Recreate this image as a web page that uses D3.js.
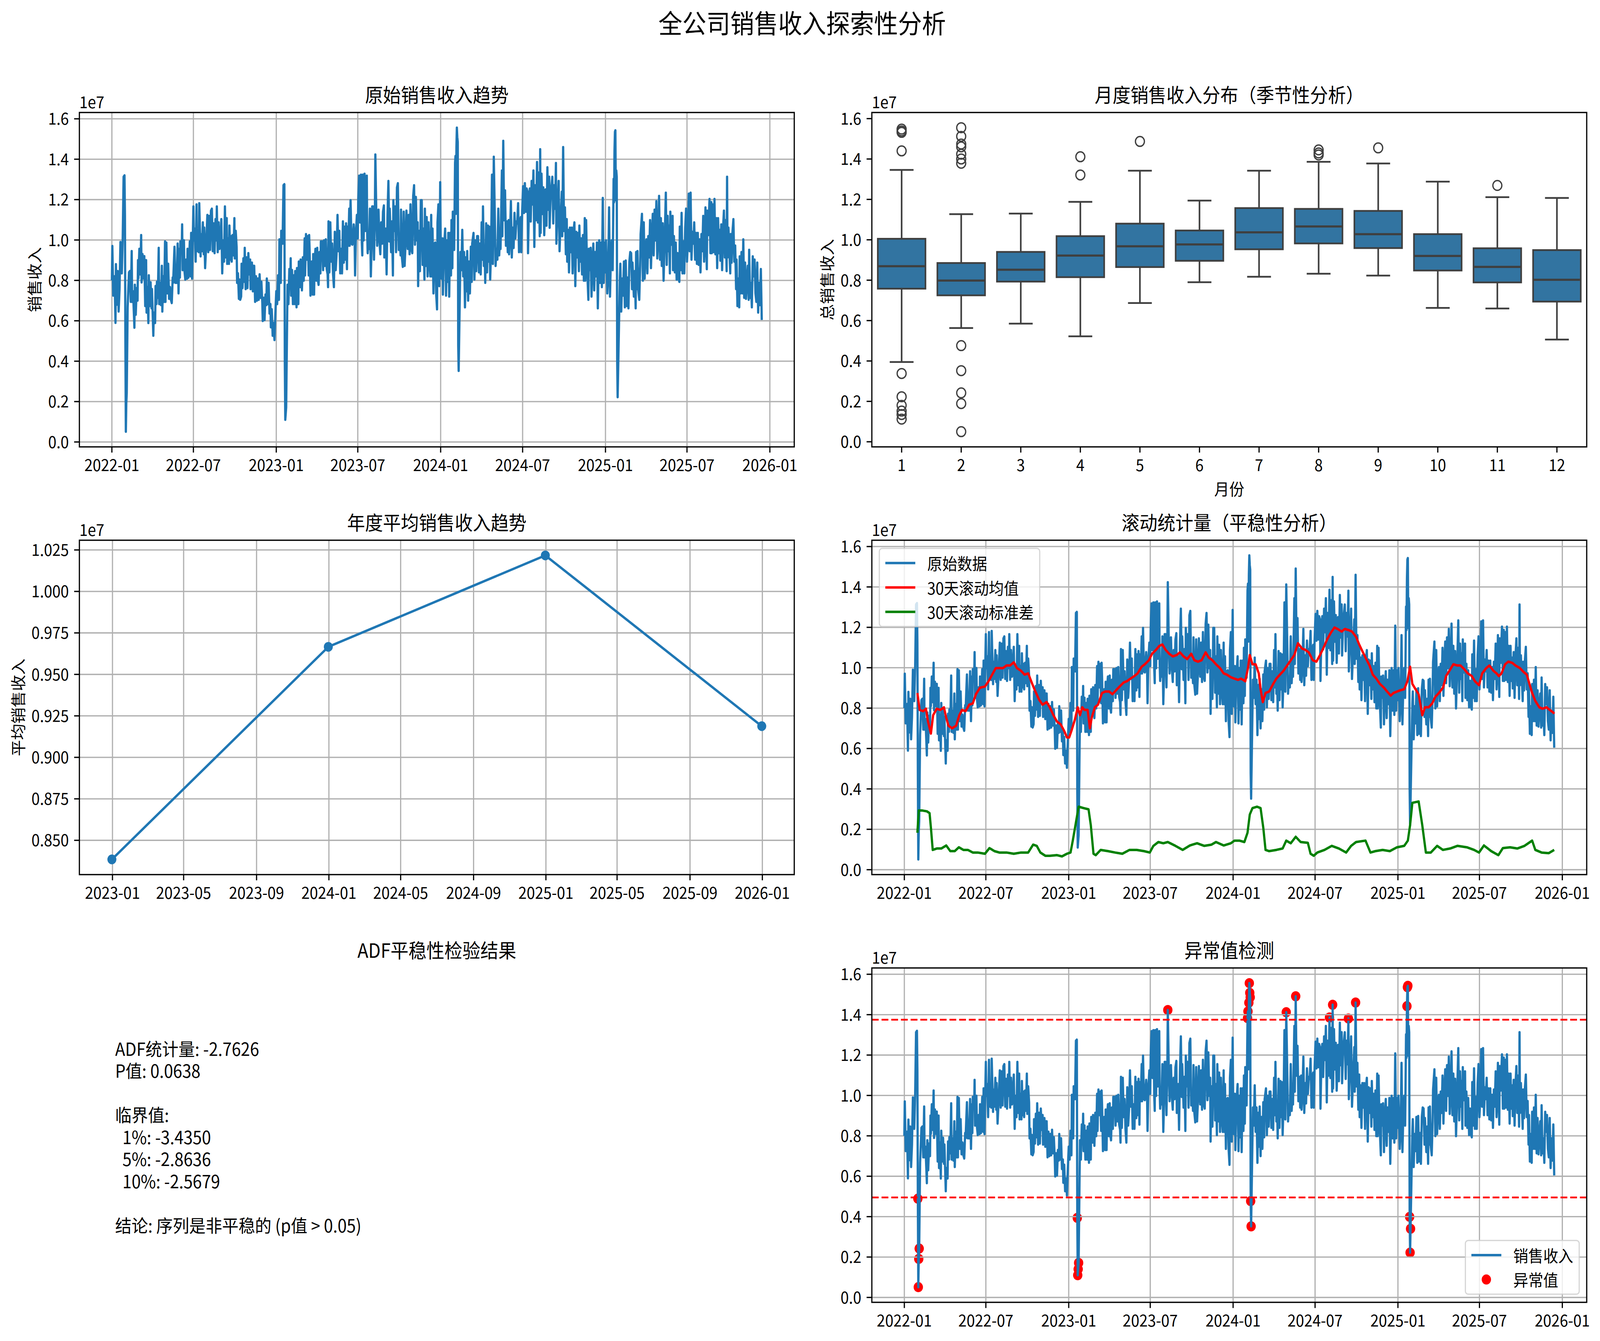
<!DOCTYPE html>
<html><head><meta charset="utf-8">
<script src="https://cdn.jsdelivr.net/npm/d3@7"></script>
<style>html,body{margin:0;padding:0;background:#fff;width:100%;height:100%;overflow:hidden}svg{display:block;width:100vw;height:100vh}text{font-family:"Noto Sans CJK SC","Noto Sans",sans-serif;fill:#000}
.adf{font-family:"Noto Sans CJK SC","Noto Sans",sans-serif;white-space:pre;color:#000;margin:0;padding:0}</style>
</head><body><svg id="chart" viewBox="0 0 4454 3433" preserveAspectRatio="none"></svg>
<script>
// ---------------- DATA (values in units of 1e7) ----------------
const seriesStart = "2022-01-01";
// [day offset from 2022-01-01, daily sales revenue]
const salesSeries = [
[0,0.80],[1,0.97],[3,0.725],[6,0.82],[8,0.59],[9,0.88],[11,0.68],[13,0.846],[15,0.646],[17,0.757],[19,0.99],[22,0.835],[24,1.0],[26,1.313],[28,1.32],[29,1.124],[30,0.489],[31,0.051],[32,0.191],[33,0.242],[35,0.667],[38,0.84],[40,0.846],[42,0.694],[44,0.945],[45,0.694],[47,0.746],[50,0.566],[51,0.778],[53,0.63],[55,0.762],[57,0.70],[58,0.90],[59,0.81],[61,0.956],[63,0.83],[65,1.024],[66,0.79],[68,0.93],[70,0.81],[72,0.92],[74,0.673],[76,0.90],[77,0.641],[79,0.767],[81,0.589],[82,0.825],[84,0.673],[86,0.79],[88,0.662],[89,0.757],[92,0.526],[93,0.641],[96,0.589],[97,0.772],[99,0.683],[100,0.793],[102,0.714],[104,0.961],[105,0.683],[108,0.788],[109,0.678],[111,0.872],[112,0.646],[114,0.82],[116,0.694],[118,0.993],[119,0.694],[121,0.987],[123,0.736],[125,0.882],[127,0.709],[129,0.767],[131,0.704],[133,0.688],[135,0.814],[136,0.788],[139,0.966],[141,0.788],[143,0.835],[144,0.788],[146,0.982],[148,0.736],[150,0.956],[151,0.814],[152,0.993],[155,0.945],[156,1.077],[157,0.851],[160,0.998],[161,0.851],[163,0.804],[165,0.903],[167,0.809],[168,0.956],[170,0.814],[172,0.935],[173,0.993],[175,0.82],[176,1.035],[178,0.809],[181,1.166],[182,0.998],[184,1.056],[186,0.893],[188,1.176],[189,0.945],[191,1.008],[193,0.94],[194,1.182],[197,0.919],[198,1.029],[200,0.945],[202,1.087],[204,0.93],[205,1.061],[207,0.861],[209,0.956],[212,1.124],[214,0.94],[216,1.119],[218,0.951],[220,1.145],[222,1.155],[224,0.945],[226,1.082],[228,0.935],[230,1.103],[232,0.998],[233,1.166],[235,0.94],[237,1.087],[239,0.956],[241,0.998],[243,1.103],[245,0.835],[247,0.998],[249,0.893],[251,1.166],[253,0.914],[255,1.108],[256,0.882],[258,1.008],[260,0.882],[261,1.071],[263,0.903],[265,1.019],[266,0.893],[268,1.024],[270,0.924],[272,1.108],[273,0.909],[275,1.045],[277,0.966],[278,0.788],[280,0.835],[282,0.709],[283,0.804],[285,0.704],[287,0.72],[288,0.882],[290,0.762],[292,0.909],[294,0.793],[295,0.961],[297,0.757],[299,0.914],[301,0.762],[303,0.935],[305,0.83],[307,0.903],[308,0.757],[311,0.888],[313,0.746],[314,0.872],[316,0.872],[318,0.694],[320,0.82],[322,0.70],[324,0.809],[326,0.704],[328,0.83],[330,0.714],[332,0.793],[334,0.688],[335,0.599],[337,0.714],[339,0.604],[341,0.73],[343,0.678],[344,0.809],[346,0.683],[348,0.788],[350,0.636],[352,0.683],[353,0.568],[355,0.657],[357,0.526],[359,0.589],[361,0.505],[363,0.636],[365,0.746],[367,0.683],[369,0.825],[371,0.704],[372,1.003],[375,0.788],[376,1.045],[379,0.982],[381,1.271],[383,1.276],[384,0.394],[385,0.11],[386,0.14],[387,0.171],[390,0.778],
[392,0.683],[394,0.856],[396,0.788],[397,0.909],[398,0.725],[400,0.851],[402,0.683],[404,0.825],[406,0.683],[407,0.846],[410,0.667],[411,0.861],[414,0.683],[415,0.893],[418,0.767],[419,0.903],[422,0.751],[424,0.914],[426,0.799],[428,1.008],[429,0.825],[431,1.029],[433,0.903],[435,1.019],[437,0.825],[438,1.024],[439,0.956],[441,0.725],[444,0.893],[446,0.73],[447,0.93],[449,0.73],[450,0.893],[452,0.956],[454,0.799],[456,0.961],[457,0.809],[459,0.778],[461,0.94],[463,0.835],[464,0.993],[467,0.993],[469,0.851],[471,0.998],[473,0.872],[475,1.003],[477,0.856],[479,0.83],[480,0.767],[481,1.092],[483,0.84],[485,1.087],[487,0.893],[489,0.982],[491,0.835],[493,0.767],[495,1.04],[497,0.851],[499,0.935],[501,1.124],[503,0.945],[505,1.045],[507,0.835],[509,0.956],[511,0.835],[513,1.092],[515,0.888],[516,1.066],[518,0.903],[520,1.082],[522,0.856],[523,1.066],[525,0.972],[527,1.155],[528,0.972],[530,1.197],[532,0.982],[534,0.977],[537,1.077],[539,0.998],[540,0.825],[542,1.04],[544,1.124],[546,1.008],[547,1.197],[549,1.318],[551,1.087],[553,1.323],[555,0.987],[556,0.924],[557,1.323],[559,0.998],[561,1.328],[563,1.045],[566,1.318],[567,1.019],[568,0.935],[570,1.008],[571,0.956],[573,1.155],[575,0.82],[577,0.998],[578,1.166],[580,1.166],[582,0.903],[584,1.15],[585,1.423],[587,1.155],[589,0.972],[590,1.04],[592,1.15],[594,0.998],[596,0.93],[598,1.087],[600,0.982],[602,1.14],[604,1.171],[605,0.914],[608,1.056],[610,0.83],[612,1.124],[614,1.292],[616,0.993],[617,1.155],[620,0.94],[622,1.092],[624,0.825],[625,1.197],[627,1.045],[629,1.166],[631,0.94],[633,1.26],[635,1.281],[637,0.951],[639,1.024],[641,0.924],[642,1.15],[644,0.914],[646,0.867],[648,1.14],[650,0.872],[652,0.977],[654,1.145],[657,0.956],[659,1.124],[661,0.93],[663,1.176],[665,0.956],[667,0.935],[669,1.218],[671,1.271],[673,0.977],[675,1.213],[677,0.998],[679,1.087],[680,0.772],[682,1.045],[684,0.846],[686,1.197],[688,1.197],[690,0.877],[692,1.056],[694,0.804],[695,1.155],[697,0.872],[699,1.113],[701,0.82],[703,1.087],[705,0.893],[707,0.82],[709,1.124],[710,0.82],[712,1.056],[714,0.736],[716,0.982],[718,0.987],[720,0.736],[722,0.657],[723,1.087],[725,1.176],[727,0.772],[729,1.286],
[730,1.019],[732,0.809],[734,1.008],[735,0.73],[737,0.945],[740,1.056],[742,0.725],[744,0.998],[746,0.793],[747,1.035],[749,0.72],[751,1.035],[753,0.825],[754,1.098],[756,0.861],[757,1.14],[760,0.951],[762,1.383],[763,1.416],[764,1.13],[765,1.459],[766,1.556],[767,1.508],[768,1.486],[769,0.477],[770,0.352],[773,0.788],[774,0.94],[776,0.851],[778,1.05],[780,0.82],[782,0.94],[784,0.667],[786,0.914],[787,0.746],[789,0.945],[791,0.70],[793,0.893],[795,0.736],[797,0.966],[799,0.793],[800,0.982],[803,1.035],[805,0.804],[807,0.998],[809,0.846],[811,1.019],[813,1.019],[815,0.84],[817,0.982],[819,0.83],[821,1.087],[823,0.903],[824,1.166],[826,0.872],[828,0.903],[829,0.788],[831,1.082],[833,0.84],[835,1.071],[836,0.893],[838,1.066],[840,0.804],[842,0.956],[844,1.323],[846,0.882],[848,1.412],[850,1.155],[852,0.872],[854,0.956],[856,0.903],[858,1.155],[860,0.924],[862,1.029],[863,0.956],[866,1.344],[867,1.019],[869,1.491],[871,1.098],[873,1.245],[875,0.972],[877,1.092],[879,0.94],[881,1.098],[882,0.93],[884,1.019],[886,1.192],[888,0.914],[890,1.061],[892,0.961],[894,1.134],[896,1.008],[898,1.092],[900,1.082],[902,1.182],[904,0.94],[905,1.082],[908,1.113],[909,0.94],[911,1.14],[913,1.266],[915,1.134],[917,1.281],[919,1.14],[921,1.255],[923,1.239],[924,0.935],[926,1.161],[928,1.255],[930,1.092],[932,1.292],[934,1.176],[936,1.344],[938,0.966],[940,1.271],[942,1.098],[944,1.386],[946,1.087],[948,1.334],[950,1.019],[951,1.449],[952,1.035],[954,1.328],[956,1.129],[958,1.26],[960,1.024],[962,1.176],[963,1.25],[965,1.071],[967,1.36],[969,1.15],[971,1.313],[972,1.061],[974,1.208],[976,1.266],[978,1.313],[980,1.082],[982,1.271],[984,1.155],[986,1.381],[987,0.982],[990,1.176],[992,1.292],[994,0.945],[997,1.124],[999,1.239],[1000,1.019],[1002,1.46],[1004,1.045],[1006,1.161],[1008,0.93],[1010,1.103],[1011,0.893],[1013,1.05],[1015,0.84],[1017,1.061],[1019,0.94],[1021,1.061],[1023,0.835],[1025,1.045],[1027,1.087],[1029,0.772],[1031,1.04],[1033,0.914],[1035,1.035],[1037,0.846],[1038,1.071],[1040,0.893],[1042,1.008],[1044,0.83],[1046,1.024],[1048,0.799],[1050,1.108],[1051,0.799],[1053,1.098],[1055,0.872],[1058,0.704],[1059,0.956],[1061,0.851],[1063,0.961],[1065,0.72],[1067,0.893],[1069,0.982],[1071,0.751],[1073,0.94],[1075,0.82],[1077,0.987],[1079,0.662],[1081,0.893],[1082,0.998],[1084,0.788],[1086,0.987],[1088,0.767],[1090,1.208],[1092,0.788],[1094,0.987],[1096,0.84],
[1097,0.998],[1100,0.736],[1102,0.83],[1104,1.161],[1106,0.72],[1108,0.914],[1110,0.998],[1112,0.851],[1114,1.302],[1115,1.187],[1116,1.442],[1117,1.536],[1118,1.543],[1119,1.197],[1120,1.344],[1121,1.313],[1122,0.399],[1123,0.222],[1124,0.34],[1126,0.578],[1128,0.82],[1129,0.882],[1131,0.646],[1133,0.809],[1135,0.725],[1137,0.893],[1139,0.667],[1141,0.898],[1143,0.673],[1145,0.814],[1147,0.662],[1149,0.893],[1151,0.94],[1153,0.935],[1155,0.757],[1156,0.888],[1159,0.72],[1161,0.846],[1163,0.662],[1164,0.94],[1166,0.757],[1167,0.945],[1169,0.746],[1171,0.704],[1173,0.872],[1174,1.029],[1177,1.129],[1179,0.799],[1181,1.087],[1183,0.809],[1185,0.956],[1187,1.003],[1189,0.835],[1191,1.019],[1193,0.914],[1195,1.098],[1197,0.861],[1199,1.019],[1201,1.129],[1203,0.924],[1205,1.15],[1207,0.998],[1209,1.192],[1211,0.909],[1213,1.008],[1215,1.218],[1217,0.903],[1219,1.108],[1221,0.872],[1223,1.082],[1225,0.799],[1227,0.966],[1230,1.234],[1232,0.877],[1234,1.119],[1236,0.945],[1237,1.071],[1239,0.835],[1240,1.14],[1242,0.977],[1245,1.119],[1246,0.851],[1248,1.019],[1250,0.84],[1252,0.987],[1254,0.804],[1256,0.935],[1258,0.809],[1260,0.793],[1261,1.066],[1263,0.851],[1265,1.134],[1267,0.835],[1270,0.993],[1271,0.835],[1273,1.061],[1275,1.155],[1277,0.893],[1279,0.998],[1281,1.229],[1283,0.945],[1285,1.234],[1287,0.903],[1289,1.04],[1291,0.982],[1293,1.087],[1295,0.903],[1297,1.035],[1299,0.882],[1301,1.035],[1303,0.877],[1305,1.003],[1307,0.84],[1309,1.029],[1311,0.945],[1313,1.119],[1315,0.893],[1317,1.029],[1318,1.161],[1321,0.856],[1322,1.145],[1324,1.024],[1327,1.203],[1329,0.935],[1331,1.187],[1332,0.935],[1334,1.176],[1336,0.94],[1338,1.203],[1340,0.93],[1342,1.108],[1344,0.861],[1346,1.108],[1348,0.935],[1350,1.05],[1351,0.898],[1353,1.077],[1355,0.851],[1357,1.056],[1359,1.145],[1361,0.914],[1363,1.098],[1365,0.846],[1366,1.313],[1367,0.914],[1369,1.061],[1371,0.956],[1373,0.835],[1374,1.029],[1376,0.888],[1378,1.04],[1380,1.103],[1382,0.893],[1384,0.972],[1386,0.757],[1387,0.903],[1389,0.673],[1391,0.809],[1393,0.667],[1394,0.919],[1396,0.736],[1398,0.94],[1400,0.736],[1402,1.003],[1404,0.714],[1406,0.888],[1408,0.709],[1410,0.799],[1412,0.872],[1414,0.704],[1415,0.951],[1417,0.714],[1419,0.788],[1421,0.667],[1423,0.919],[1425,0.82],[1427,0.903],[1429,0.736],[1431,0.694],[1433,0.888],[1435,0.641],[1437,0.788],[1439,0.678],[1441,0.856],[1443,0.604]
];
// 30-day rolling mean [day, value]
const rollingMean = [[29,0.875],[34,0.791],[42,0.785],[48,0.797],[52,0.739],[59,0.674],[64,0.765],[72,0.797],[80,0.791],[88,0.804],[93,0.752],[98,0.713],[106,0.70],[115,0.713],[122,0.765],[128,0.791],[136,0.785],[144,0.817],[152,0.823],[159,0.869],[168,0.901],[179,0.907],[187,0.933],[195,0.966],[203,0.998],[211,0.998],[219,0.998],[227,1.011],[235,1.011],[243,1.027],[250,0.998],[259,0.985],[267,0.966],[275,0.972],[284,0.92],[291,0.882],[299,0.843],[307,0.817],[316,0.83],[323,0.804],[331,0.765],[339,0.733],[347,0.72],[355,0.687],[361,0.655],[366,0.655],[371,0.687],[379,0.746],[385,0.804],[390,0.765],[395,0.804],[400,0.791],[407,0.791],[412,0.70],[416,0.752],[423,0.804],[430,0.817],[439,0.875],[446,0.882],[455,0.882],[462,0.869],[470,0.888],[478,0.907],[487,0.927],[494,0.933],[502,0.946],[511,0.959],[518,0.972],[527,1.005],[534,1.017],[543,1.037],[550,1.069],[559,1.089],[566,1.108],[573,1.115],[580,1.089],[588,1.069],[596,1.056],[605,1.063],[612,1.076],[620,1.056],[628,1.043],[637,1.069],[644,1.037],[652,1.03],[660,1.037],[669,1.076],[676,1.05],[684,1.037],[692,1.017],[701,0.998],[709,0.972],[716,0.966],[725,0.953],[733,0.946],[741,0.94],[748,0.946],[757,0.933],[763,0.998],[767,1.063],[773,1.017],[780,1.017],[787,0.972],[791,0.894],[796,0.83],[802,0.875],[810,0.882],[819,0.92],[826,0.946],[834,0.966],[842,0.985],[850,1.011],[858,1.037],[866,1.063],[874,1.121],[883,1.095],[890,1.089],[898,1.076],[907,1.037],[915,1.03],[923,1.063],[930,1.095],[939,1.141],[947,1.173],[955,1.199],[962,1.192],[971,1.179],[978,1.192],[987,1.186],[994,1.179],[1003,1.153],[1010,1.115],[1017,1.082],[1024,1.05],[1033,1.011],[1040,0.966],[1048,0.946],[1056,0.92],[1065,0.901],[1072,0.882],[1080,0.862],[1086,0.875],[1094,0.882],[1101,0.888],[1110,0.894],[1117,0.933],[1123,1.005],[1128,0.92],[1135,0.894],[1142,0.869],[1150,0.765],[1156,0.804],[1164,0.804],[1172,0.823],[1179,0.856],[1187,0.875],[1196,0.901],[1203,0.959],[1212,0.991],[1219,1.017],[1228,1.011],[1235,1.011],[1244,0.991],[1251,0.972],[1260,0.959],[1267,0.933],[1276,0.914],[1283,0.972],[1292,0.998],[1299,1.011],[1308,0.985],[1315,0.972],[1320,0.959],[1326,0.972],[1334,1.017],[1341,1.03],[1350,1.024],[1357,1.011],[1367,0.998],[1375,0.979],[1382,0.966],[1388,0.92],[1394,0.875],[1401,0.836],[1410,0.804],[1417,0.797],[1426,0.804],[1433,0.791],[1441,0.778],[1443,0.772]];
// 30-day rolling standard deviation [day, value]
const rollingStd = [[29,0.183],[32,0.293],[40,0.293],[50,0.289],[56,0.28],[59,0.208],[63,0.098],[72,0.105],[82,0.105],[93,0.12],[102,0.092],[112,0.092],[121,0.111],[131,0.098],[141,0.098],[152,0.085],[163,0.085],[179,0.079],[189,0.107],[200,0.092],[211,0.085],[227,0.085],[243,0.079],[259,0.085],[275,0.085],[286,0.124],[294,0.118],[302,0.085],[313,0.069],[323,0.069],[339,0.072],[350,0.066],[361,0.079],[369,0.085],[374,0.144],[380,0.221],[387,0.312],[398,0.305],[409,0.299],[414,0.221],[420,0.079],[425,0.072],[436,0.098],[452,0.092],[468,0.085],[484,0.079],[500,0.098],[516,0.098],[532,0.092],[545,0.085],[553,0.118],[564,0.137],[575,0.131],[585,0.137],[602,0.118],[618,0.098],[634,0.12],[650,0.131],[666,0.118],[682,0.124],[692,0.137],[709,0.12],[725,0.131],[733,0.144],[744,0.144],[755,0.137],[762,0.183],[767,0.273],[773,0.305],[783,0.312],[791,0.305],[797,0.208],[802,0.098],[810,0.092],[826,0.098],[840,0.105],[848,0.144],[858,0.131],[869,0.163],[880,0.137],[896,0.133],[902,0.079],[909,0.069],[917,0.085],[933,0.098],[949,0.118],[965,0.105],[981,0.085],[992,0.118],[1003,0.137],[1024,0.144],[1035,0.085],[1046,0.092],[1062,0.098],[1078,0.092],[1094,0.111],[1110,0.118],[1118,0.144],[1123,0.221],[1128,0.331],[1142,0.338],[1150,0.221],[1158,0.085],[1169,0.085],[1183,0.118],[1196,0.098],[1212,0.105],[1228,0.118],[1249,0.111],[1265,0.098],[1276,0.085],[1287,0.12],[1303,0.092],[1319,0.072],[1329,0.107],[1345,0.111],[1361,0.105],[1377,0.118],[1394,0.144],[1401,0.098],[1415,0.085],[1431,0.082],[1443,0.098]];
// monthly box plot statistics
const months = [1,2,3,4,5,6,7,8,9,10,11,12];
const boxWhiskerHigh = [1.346,1.127,1.130,1.188,1.342,1.194,1.342,1.386,1.378,1.288,1.211,1.207];
const boxQ3 = [1.005,0.885,0.940,1.018,1.080,1.046,1.157,1.153,1.143,1.028,0.958,0.949];
const boxMedian = [0.869,0.798,0.852,0.922,0.968,0.977,1.037,1.066,1.028,0.920,0.866,0.802];
const boxQ1 = [0.758,0.725,0.793,0.815,0.865,0.896,0.953,0.982,0.959,0.848,0.789,0.694];
const boxWhiskerLow = [0.395,0.563,0.585,0.522,0.687,0.790,0.817,0.832,0.823,0.663,0.660,0.506];
const boxOutliers = [[1.548,1.539,1.532,1.440,0.338,0.223,0.18,0.152,0.135,0.112],[1.555,1.512,1.474,1.46,1.424,1.40,1.379,0.476,0.352,0.242,0.189,0.05],[],[1.411,1.321],[1.487],[],[],[1.445,1.43,1.42],[1.455],[],[1.269],[]];
// yearly average
const annualDates = ["2022-12-31","2023-12-31","2024-12-31","2025-12-31"];
const annualMean = [0.8385,0.9666,1.0217,0.9188];
// anomaly thresholds
const upperThreshold = 1.375, lowerThreshold = 0.495;
// tick values
const revenueTicks = [0,0.2,0.4,0.6,0.8,1.0,1.2,1.4,1.6];
const annualTicks = [0.850,0.875,0.900,0.925,0.950,0.975,1.000,1.025];
// ADF test text
const adfLines = ["ADF统计量: -2.7626","P值: 0.0638","","临界值:","  1%: -3.4350","  5%: -2.8636","  10%: -2.5679","","结论: 序列是非平稳的 (p值 > 0.05)"];

// ---------------- DRAWING ----------------
const W=4454, H=3433;
const FS_TICK=41.7, FS_TITLE=50, FS_SUP=66.7, FS_LEG=41.7, FS_TEXT=45.8;
const LW_AX=3.33, GRID='#b0b0b0', TICK_LEN=14.6, TICK_PAD=14.6, LW=6.25;
const C0='#1f77b4';
const COLS=[221,2427], PW=1990, ROWS=[288,1383,2478], PH=856;
const svg=d3.select('#chart');
svg.append('rect').attr('width',W).attr('height',H).attr('fill','#fff');
const defs=svg.append('defs');
const day0=Date.parse(seriesStart+"T00:00:00Z");
const toDate=d=>new Date(day0+d*86400000);
const padDomain=(lo,hi,f=0.05)=>{const r=hi-lo;return [lo-r*f,hi+r*f];};

function makePanel(col,row){
  const x0=COLS[col],y0=ROWS[row],w=PW,h=PH;
  const id='clip'+col+'_'+row;
  defs.append('clipPath').attr('id',id).append('rect').attr('x',x0).attr('y',y0).attr('width',w).attr('height',h);
  const g=svg.append('g');
  const under=g.append('g').attr('clip-path',`url(#${id})`);
  const grid=g.append('g');
  const data=g.append('g').attr('clip-path',`url(#${id})`);
  const axes=g.append('g');
  const over=g.append('g');
  return {x0,y0,w,h,x1:x0+w,y1:y0+h,under,grid,data,axes,over};
}
function yAxis(p,y,ticks,fmt,grid){
  const lab=p.axes.append('g');
  ticks.forEach(t=>{
    const yy=y(t);
    if(grid) p.grid.append('line').attr('x1',p.x0).attr('x2',p.x1).attr('y1',yy).attr('y2',yy).attr('stroke',GRID).attr('stroke-width',LW_AX);
    p.axes.append('line').attr('x1',p.x0-TICK_LEN).attr('x2',p.x0).attr('y1',yy).attr('y2',yy).attr('stroke','#000').attr('stroke-width',LW_AX);
    lab.append('text').attr('x',p.x0-TICK_LEN-TICK_PAD).attr('y',yy+0.365*FS_TICK).attr('text-anchor','end').attr('font-size',FS_TICK).text(fmt(t));
  });
  return lab;
}
function xAxis(p,x,ticks,fmt,grid){
  ticks.forEach(t=>{
    const xx=x(t);
    if(grid) p.grid.append('line').attr('x1',xx).attr('x2',xx).attr('y1',p.y0).attr('y2',p.y1).attr('stroke',GRID).attr('stroke-width',LW_AX);
    p.axes.append('line').attr('x1',xx).attr('x2',xx).attr('y1',p.y1).attr('y2',p.y1+TICK_LEN).attr('stroke','#000').attr('stroke-width',LW_AX);
    p.axes.append('text').attr('x',xx).attr('y',p.y1+62).attr('text-anchor','middle').attr('font-size',FS_TICK).text(fmt(t));
  });
}
function spines(p){
  p.axes.append('rect').attr('x',p.x0).attr('y',p.y0).attr('width',p.w).attr('height',p.h).attr('fill','none').attr('stroke','#000').attr('stroke-width',LW_AX);
}
function title(p,t){
  p.over.append('text').attr('x',p.x0+p.w/2).attr('y',p.y0-26).attr('text-anchor','middle').attr('font-size',FS_TITLE).text(t);
}
function offset(p){
  p.over.append('text').attr('x',p.x0).attr('y',p.y0-11).attr('font-size',FS_TICK).text('1e7');
}
function ylabel(p,lab,t){
  const bb=lab.node().getBBox();
  const x=bb.x-16.7-0.12*FS_TICK, y=p.y0+p.h/2;
  p.over.append('text').attr('transform',`translate(${x},${y}) rotate(-90)`).attr('text-anchor','middle').attr('font-size',FS_TICK).text(t);
}
function legend(p,items,loc){
  const em=FS_LEG,bp=0.4*em,hl=2*em,htp=0.8*em,ls=0.5*em,rowH=em;
  const g=p.over.append('g');
  const frame=g.append('rect');
  const tx=items.map(it=>g.append('text').attr('font-size',em).attr('dominant-baseline','central').text(it.label));
  const maxW=d3.max(tx,t=>t.node().getComputedTextLength());
  const bw=2*bp+hl+htp+maxW, bh=2*bp+items.length*rowH+(items.length-1)*ls;
  let bx,by;
  if(loc==='upper left'){bx=p.x0+0.5*em;by=p.y0+0.5*em;}
  else {bx=p.x1-0.5*em-bw;by=p.y1-0.5*em-bh;}
  frame.attr('x',bx).attr('y',by).attr('width',bw).attr('height',bh).attr('rx',8).attr('ry',8)
    .attr('fill','#fff').attr('fill-opacity',0.8).attr('stroke','#cccccc').attr('stroke-opacity',0.8).attr('stroke-width',LW_AX);
  items.forEach((it,i)=>{
    const cy=by+bp+i*(rowH+ls)+rowH/2;
    if(it.type==='line') g.append('line').attr('x1',bx+bp).attr('x2',bx+bp+hl).attr('y1',cy).attr('y2',cy).attr('stroke',it.color).attr('stroke-width',LW);
    else g.append('circle').attr('cx',bx+bp+hl/2).attr('cy',cy).attr('r',13).attr('fill',it.color);
    tx[i].attr('x',bx+bp+hl+htp).attr('y',cy);
  });
}

function draw(){
  svg.append('text').attr('x',2233).attr('y',85).attr('text-anchor','middle').attr('font-size',FS_SUP).text('全公司销售收入探索性分析');

  const dayExt=d3.extent(salesSeries,d=>d[0]);
  const valExt=d3.extent(salesSeries,d=>d[1]);
  const dDom=padDomain(dayExt[0],dayExt[1]);
  const vDom=padDomain(valExt[0],valExt[1]);

  function timePanel(p){
    const x=d3.scaleUtc().domain([toDate(dDom[0]),toDate(dDom[1])]).range([p.x0,p.x1]);
    const y=d3.scaleLinear().domain(vDom).range([p.y1,p.y0]);
    return {x,y};
  }
  const fmtDate=d3.utcFormat('%Y-%m');
  const halfYearTicks=x=>d3.utcMonth.every(6).range(x.domain()[0],x.domain()[1]);

  // ---- Panel 1: raw series
  {
    const p=makePanel(0,0); const {x,y}=timePanel(p);
    const lab=yAxis(p,y,revenueTicks,d3.format('.1f'),true);
    xAxis(p,x,halfYearTicks(x),fmtDate,true);
    const line=d3.line().x(d=>x(toDate(d[0]))).y(d=>y(d[1]));
    p.data.append('path').datum(salesSeries).attr('d',line).attr('fill','none').attr('stroke',C0).attr('stroke-width',LW).attr('stroke-linejoin','round');
    spines(p); title(p,'原始销售收入趋势'); offset(p); ylabel(p,lab,'销售收入');
  }
  // ---- Panel 2: monthly boxplot
  {
    const p=makePanel(1,0);
    const allV=[].concat(boxWhiskerHigh,boxWhiskerLow,...boxOutliers);
    const y=d3.scaleLinear().domain(padDomain(d3.min(allV),d3.max(allV))).range([p.y1,p.y0]);
    const x=d3.scaleLinear().domain([-0.5,months.length-0.5]).range([p.x0,p.x1]);
    const lab=yAxis(p,y,revenueTicks,d3.format('.1f'),false);
    xAxis(p,x,d3.range(months.length),i=>String(months[i]),false);
    const LC='#3f3f3f', BLW=4.5;
    months.forEach((m,i)=>{
      const g=p.data.append('g');
      const xc=x(i), hw=x(0.4)-x(0), cw=x(0.2)-x(0);
      g.append('line').attr('x1',xc).attr('x2',xc).attr('y1',y(boxQ3[i])).attr('y2',y(boxWhiskerHigh[i])).attr('stroke',LC).attr('stroke-width',BLW);
      g.append('line').attr('x1',xc).attr('x2',xc).attr('y1',y(boxQ1[i])).attr('y2',y(boxWhiskerLow[i])).attr('stroke',LC).attr('stroke-width',BLW);
      g.append('line').attr('x1',xc-cw).attr('x2',xc+cw).attr('y1',y(boxWhiskerHigh[i])).attr('y2',y(boxWhiskerHigh[i])).attr('stroke',LC).attr('stroke-width',BLW);
      g.append('line').attr('x1',xc-cw).attr('x2',xc+cw).attr('y1',y(boxWhiskerLow[i])).attr('y2',y(boxWhiskerLow[i])).attr('stroke',LC).attr('stroke-width',BLW);
      g.append('rect').attr('x',xc-hw).attr('width',2*hw).attr('y',y(boxQ3[i])).attr('height',y(boxQ1[i])-y(boxQ3[i])).attr('fill','#3274a1').attr('stroke',LC).attr('stroke-width',BLW);
      g.append('line').attr('x1',xc-hw).attr('x2',xc+hw).attr('y1',y(boxMedian[i])).attr('y2',y(boxMedian[i])).attr('stroke',LC).attr('stroke-width',BLW+1);
      boxOutliers[i].forEach(v=>g.append('circle').attr('cx',xc).attr('cy',y(v)).attr('r',12.5).attr('fill','none').attr('stroke',LC).attr('stroke-width',3.5));
    });
    spines(p); title(p,'月度销售收入分布（季节性分析）'); offset(p); ylabel(p,lab,'总销售收入');
    p.over.append('text').attr('x',p.x0+p.w/2).attr('y',p.y1+124).attr('text-anchor','middle').attr('font-size',FS_TICK).text('月份');
  }
  // ---- Panel 3: annual mean
  {
    const p=makePanel(0,1);
    const dates=annualDates.map(s=>new Date(s+"T00:00:00Z"));
    const xd=padDomain(+dates[0],+dates[dates.length-1]);
    const x=d3.scaleUtc().domain([new Date(xd[0]),new Date(xd[1])]).range([p.x0,p.x1]);
    const y=d3.scaleLinear().domain(padDomain(d3.min(annualMean),d3.max(annualMean))).range([p.y1,p.y0]);
    const lab=yAxis(p,y,annualTicks,d3.format('.3f'),true);
    xAxis(p,x,d3.utcMonth.every(4).range(x.domain()[0],x.domain()[1]),fmtDate,true);
    const pts=dates.map((d,i)=>[d,annualMean[i]]);
    p.data.append('path').datum(pts).attr('d',d3.line().x(d=>x(d[0])).y(d=>y(d[1]))).attr('fill','none').attr('stroke',C0).attr('stroke-width',LW).attr('stroke-linejoin','round');
    p.data.selectAll('circle.m').data(pts).join('circle').attr('cx',d=>x(d[0])).attr('cy',d=>y(d[1])).attr('r',12.5).attr('fill',C0);
    spines(p); title(p,'年度平均销售收入趋势'); offset(p); ylabel(p,lab,'平均销售收入');
  }
  // ---- Panel 4: rolling statistics
  {
    const p=makePanel(1,1); const {x,y}=timePanel(p);
    yAxis(p,y,revenueTicks,d3.format('.1f'),true);
    xAxis(p,x,halfYearTicks(x),fmtDate,true);
    const line=d3.line().x(d=>x(toDate(d[0]))).y(d=>y(d[1]));
    p.data.append('path').datum(salesSeries).attr('d',line).attr('fill','none').attr('stroke',C0).attr('stroke-width',LW).attr('stroke-linejoin','round');
    p.data.append('path').datum(rollingMean).attr('d',line).attr('fill','none').attr('stroke','red').attr('stroke-width',LW).attr('stroke-linejoin','round');
    p.data.append('path').datum(rollingStd).attr('d',line).attr('fill','none').attr('stroke','green').attr('stroke-width',LW).attr('stroke-linejoin','round');
    spines(p); title(p,'滚动统计量（平稳性分析）'); offset(p);
    legend(p,[{label:'原始数据',type:'line',color:C0},{label:'30天滚动均值',type:'line',color:'red'},{label:'30天滚动标准差',type:'line',color:'green'}],'upper left');
  }
  // ---- Panel 5: ADF text block (HTML block with fixed line height)
  {
    const x0=COLS[0], y0=ROWS[2];
    svg.append('text').attr('x',x0+PW/2).attr('y',y0-26).attr('text-anchor','middle').attr('font-size',FS_TITLE).text('ADF平稳性检验结果');
    const lh=56.5, cy=y0+PH/2, n=adfLines.length, tx=x0+0.05*PW;
    const top=cy-n*lh/2+3;
    const fo=svg.append('foreignObject').attr('x',tx).attr('y',top).attr('width',PW*0.9).attr('height',n*lh+10);
    fo.append('xhtml:div').attr('class','adf')
      .style('font-size',FS_TEXT+'px').style('line-height',lh+'px')
      .text(adfLines.join('\n'));
  }
  // ---- Panel 6: anomalies
  {
    const p=makePanel(1,2); const {x,y}=timePanel(p);
    yAxis(p,y,revenueTicks,d3.format('.1f'),true);
    xAxis(p,x,halfYearTicks(x),fmtDate,true);
    const anomalies=salesSeries.filter(d=>d[1]>upperThreshold||d[1]<lowerThreshold);
    p.under.selectAll('circle').data(anomalies).join('circle').attr('cx',d=>x(toDate(d[0]))).attr('cy',d=>y(d[1])).attr('r',13).attr('fill','red');
    const line=d3.line().x(d=>x(toDate(d[0]))).y(d=>y(d[1]));
    p.data.append('path').datum(salesSeries).attr('d',line).attr('fill','none').attr('stroke',C0).attr('stroke-width',LW).attr('stroke-linejoin','round');
    [upperThreshold,lowerThreshold].forEach(t=>{
      p.data.append('line').attr('x1',p.x0).attr('x2',p.x1).attr('y1',y(t)).attr('y2',y(t)).attr('stroke','red').attr('stroke-width',4.5).attr('stroke-dasharray','19,8');
    });
    spines(p); title(p,'异常值检测'); offset(p);
    legend(p,[{label:'销售收入',type:'line',color:C0},{label:'异常值',type:'marker',color:'red'}],'lower right');
  }
}
if(document.fonts&&document.fonts.ready){document.fonts.ready.then(draw);}else{draw();}
</script>
</body></html>
